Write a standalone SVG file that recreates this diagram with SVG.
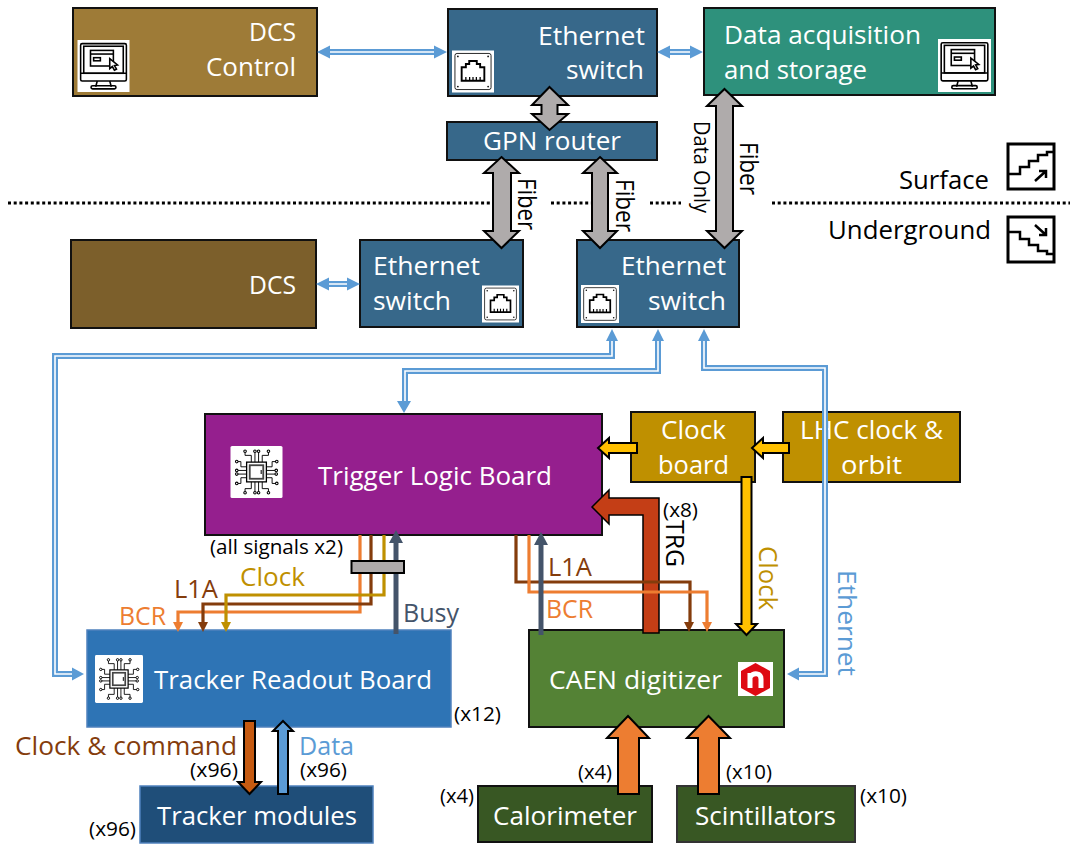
<svg xmlns="http://www.w3.org/2000/svg" width="1071" height="846" viewBox="0 0 1071 846">
<style>
text{font-family:"Open Sans","Noto Sans","Liberation Sans",sans-serif;font-size:26px;fill:#000}
.w{fill:#fff}.s{font-size:20px}
.box{stroke:#111;stroke-width:2}
.soft{stroke-width:1.5}
.eo{fill:none;stroke:#5B9BD5;stroke-width:6}
.ei{fill:none;stroke:#fff;stroke-width:1.6}
.eh{fill:#5B9BD5}
.blk{stroke:#000;stroke-width:2;stroke-linejoin:miter}
.g{fill:#AFABAB}.y{fill:#FFC000}.o{fill:#ED7D31}
.ln{fill:none;stroke-width:3.2}
.dot{stroke:#000;stroke-width:3;stroke-dasharray:3 2.7;fill:none}
.ic{fill:none;stroke:#000;stroke-width:3}
.icf{fill:#000}
</style>
<defs>
<symbol id="monitor" viewBox="0 0 100 100">
<rect width="100" height="100" fill="#fff"/>
<rect class="ic" x="6" y="7" width="88" height="72" rx="3"/>
<rect class="ic" x="12" y="12" width="76" height="52"/>
<path class="ic" d="M6 64H94M38 79L35 90M62 79L65 90"/>
<rect class="ic" x="26" y="88" width="48" height="6" rx="3"/>
<rect class="ic" x="25" y="20" width="44" height="30"/>
<path class="ic" d="M25 27H69"/>
<rect class="ic" x="31" y="34" width="13" height="6"/>
<path d="M62 36L77 48L71 49L75 56L71 58L67 51L62 55Z" fill="#fff" stroke="#000" stroke-width="3"/>
</symbol>
<symbol id="port" viewBox="0 0 100 100">
<rect width="100" height="100" fill="#fff"/>
<rect x="7" y="7" width="86" height="86" rx="5" fill="none" stroke="#000" stroke-width="2"/>
<circle class="icf" cx="14" cy="14" r="2"/><circle class="icf" cx="86" cy="14" r="2"/><circle class="icf" cx="14" cy="86" r="2"/><circle class="icf" cx="86" cy="86" r="2"/>
<path d="M23 72V40H33V32H41V25H59V32H67V40H77V72Z" fill="none" stroke="#000" stroke-width="4.5"/>
<path d="M33 72V63M42 72V63M50 72V63M58 72V63M67 72V63" stroke="#000" stroke-width="3"/>
</symbol>
<symbol id="chip" viewBox="0 0 100 100">
<rect width="100" height="100" rx="3" fill="#fff"/>
<rect x="31" y="31" width="38" height="38" fill="none" stroke="#000" stroke-width="2.500"/>
<rect x="37" y="37" width="26" height="26" fill="none" stroke="#444" stroke-width="3.500"/>
<path d="M59 46V54" stroke="#000" stroke-width="2"/>
<path d="M40 31V18H28V12M47 31V12M54 31V12M61 31V18H73V12M40 69V82H28V88M47 69V88M54 69V88M61 69V82H73V88M31 40H20V30H14M31 47H14M31 54H14M31 61H20V72H14M69 40H80V30H88M69 47H86M69 54H86M69 61H80V72H88" fill="none" stroke="#000" stroke-width="1.800"/>
<g fill="#fff" stroke="#000" stroke-width="2"><circle cx="28" cy="10" r="2.500"/><circle cx="47" cy="10" r="2.500"/><circle cx="54" cy="10" r="2.500"/><circle cx="73" cy="10" r="2.500"/><circle cx="28" cy="90" r="2.500"/><circle cx="47" cy="90" r="2.500"/><circle cx="54" cy="90" r="2.500"/><circle cx="73" cy="90" r="2.500"/><circle cx="12" cy="30" r="2.500"/><circle cx="12" cy="47" r="2.500"/><circle cx="12" cy="54" r="2.500"/><circle cx="12" cy="72" r="2.500"/><circle cx="89" cy="30" r="2.500"/><circle cx="88" cy="47" r="2.500"/><circle cx="88" cy="54" r="2.500"/><circle cx="89" cy="72" r="2.500"/></g>
</symbol>
</defs>

<g id="node-dcs-control"><rect class="box" x="73" y="8" width="244" height="88" fill="#9E7B37"/><use href="#monitor" x="77" y="40" width="53" height="52"/>
<text class="w" x="249" y="41" textLength="47" lengthAdjust="spacingAndGlyphs">DCS</text><text class="w" x="206" y="76" textLength="90" lengthAdjust="spacingAndGlyphs">Control</text></g>
<g id="node-eth-top"><rect class="box" x="448" y="9" width="209" height="87" fill="#37688A"/><use href="#port" x="452" y="50" width="42" height="43"/>
<text class="w" x="538" y="45" textLength="107" lengthAdjust="spacingAndGlyphs">Ethernet</text><text class="w" x="566" y="79" textLength="78" lengthAdjust="spacingAndGlyphs">switch</text></g>
<g id="node-daq"><rect class="box" x="704" y="8" width="291" height="87" fill="#2E917C"/><use href="#monitor" x="938" y="39" width="53" height="53"/>
<text class="w" x="724" y="44" textLength="197" lengthAdjust="spacingAndGlyphs">Data acquisition</text><text class="w" x="724" y="79" textLength="143" lengthAdjust="spacingAndGlyphs">and storage</text></g>
<g id="node-gpn"><rect class="box" x="447" y="122" width="210" height="38" fill="#37688A"/><text class="w" x="483" y="150" textLength="138" lengthAdjust="spacingAndGlyphs">GPN router</text></g>
<g id="node-dcs"><rect class="box" x="71" y="240" width="245" height="88" fill="#7C5F2B"/><text class="w" x="249" y="294" textLength="47" lengthAdjust="spacingAndGlyphs">DCS</text></g>
<g id="node-eth-left"><rect class="box" x="360" y="240" width="163" height="87" fill="#37688A"/><use href="#port" x="482" y="285" width="37" height="38"/>
<text class="w" x="373" y="275" textLength="107" lengthAdjust="spacingAndGlyphs">Ethernet</text><text class="w" x="373" y="310" textLength="78" lengthAdjust="spacingAndGlyphs">switch</text></g>
<g id="node-eth-right"><rect class="box" x="577" y="240" width="162" height="87" fill="#37688A"/><use href="#port" x="581" y="285" width="38" height="38"/>
<text class="w" x="621" y="275" textLength="105" lengthAdjust="spacingAndGlyphs">Ethernet</text><text class="w" x="648" y="310" textLength="78" lengthAdjust="spacingAndGlyphs">switch</text></g>
<g id="node-trigger"><rect class="box" x="205" y="414" width="397" height="121" fill="#951F8E"/><use href="#chip" x="230" y="446" width="53" height="52"/>
<text class="w" x="318" y="485" textLength="234" lengthAdjust="spacingAndGlyphs">Trigger Logic Board</text></g>
<g id="node-clock-board"><rect class="box" x="631" y="412" width="124" height="70" fill="#BF9000"/><text class="w" x="661" y="439" textLength="65" lengthAdjust="spacingAndGlyphs">Clock</text><text class="w" x="658" y="474" textLength="71" lengthAdjust="spacingAndGlyphs">board</text></g>
<g id="node-lhc"><rect class="box" x="783" y="412" width="177" height="70" fill="#BF9000"/><text class="w" x="800" y="439" textLength="143" lengthAdjust="spacingAndGlyphs">LHC clock &amp;</text><text class="w" x="841" y="474" textLength="61" lengthAdjust="spacingAndGlyphs">orbit</text></g>
<g id="node-trb"><rect class="box soft" x="87" y="630" width="364" height="97" fill="#2E74B5" style="stroke:#4F81BD"/><use href="#chip" x="95" y="655" width="48" height="48"/>
<text class="w" x="154" y="689" textLength="278" lengthAdjust="spacingAndGlyphs">Tracker Readout Board</text></g>
<g id="node-caen"><rect class="box" x="529" y="630" width="255" height="97" fill="#548235"/>
<rect x="738" y="662" width="35" height="34" fill="#fff"/><path d="M755.500 663L770 671V688L755.500 696L741 688V671Z" fill="#DE0A12"/>
<path d="M750 688V673M750 677C754 672 761 673 761 679V688" fill="none" stroke="#fff" stroke-width="5"/>
<text class="w" x="549" y="689" textLength="173" lengthAdjust="spacingAndGlyphs">CAEN digitizer</text></g>
<g id="node-tracker"><rect class="box soft" x="140" y="786" width="233" height="57" fill="#1F4E79" style="stroke:#4F81BD"/><text class="w" x="157" y="825" textLength="200" lengthAdjust="spacingAndGlyphs">Tracker modules</text></g>
<g id="node-calorimeter"><rect class="box" x="478" y="786" width="174" height="56" fill="#385723"/><text class="w" x="493" y="825" textLength="144" lengthAdjust="spacingAndGlyphs">Calorimeter</text></g>
<g id="node-scintillators"><rect class="box" x="677" y="786" width="178" height="56" fill="#385723" style="stroke:#333"/><text class="w" x="695" y="825" textLength="141" lengthAdjust="spacingAndGlyphs">Scintillators</text></g>

<g id="boundary">
<path class="dot" d="M8 203H492M551 203H592M650 203H681M772 203H1070"/>
<g id="surface-icon"><rect x="1008" y="144" width="46" height="45" fill="#fff" stroke="#000" stroke-width="3"/><path d="M1008 174H1020V167H1029V161H1038V155H1047V152H1054" fill="none" stroke="#000" stroke-width="2.500"/><path d="M1035 181L1046 171M1039 171H1046V178" fill="none" stroke="#000" stroke-width="2.500"/></g>
<g id="underground-icon"><rect x="1008" y="217" width="46" height="45" fill="#fff" stroke="#000" stroke-width="3"/><path d="M1008 232H1020V239H1029V245H1038V251H1047V254H1054" fill="none" stroke="#000" stroke-width="2.500"/><path d="M1035 225L1046 235M1039 235H1046V228" fill="none" stroke="#000" stroke-width="2.500"/></g>
<text x="899" y="189" textLength="90" lengthAdjust="spacingAndGlyphs">Surface</text>
<text x="828" y="239" textLength="163" lengthAdjust="spacingAndGlyphs">Underground</text>
</g>

<g id="connectors">
<path class="eo" d="M330 52H435M670 52H691M329 284H348"/><path class="ei" d="M328 52H436M668 52H692M327 284H349"/>
<path class="eh" d="M317 52L330 45.500V58.500ZM447 52L434 45.500V58.500ZM657 52L670 45.500V58.500ZM703 52L690 45.500V58.500ZM316 284L329 277.500V290.500ZM360 284L347 277.500V290.500Z"/>
<path class="eo" d="M612 340V356H55V674H72"/><path class="ei" d="M612 340V356H55V674H73"/>
<path class="eh" d="M612 329L606 341H618ZM84 674L72 667.500V680.500Z"/>
<path class="eo" d="M658 340V371H405V401"/><path class="ei" d="M658 340V371H405V402"/>
<path class="eh" d="M658 329L652 341H664ZM404 413L397 401H411Z"/>
<path class="eo" d="M704 340V368H825V674H798"/><path class="ei" d="M704 340V368H825V674H797"/>
<path class="eh" d="M704 329L698 341H710ZM787 674L799 667.500V680.500Z"/>
<path class="blk g" d="M549.500 87L568 105H557.500V114H568L549.500 130L532 114H541.500V105H532Z"/>
<path class="blk g" d="M501.500 157L519 173H511V231H519L501.500 248L484 231H493V173H484Z"/>
<path class="blk g" d="M600 157L617 173H608V231H617L600 248L583 231H592V173H583Z"/>
<path class="blk g" d="M724.500 89L742 106H733V231H742L724.500 248L707 231H716V106H707Z"/>
<path class="blk y" d="M598 448L609 438V443H637V453H609V458Z"/>
<path class="blk y" d="M752 448L763 438V443H789V453H763V458Z"/>
<path class="blk y" d="M741.500 477H751.500V624H757L746.500 635L736 624H741.500Z"/>
<path d="M643 633V515H609V524L592 507L609 490V498H659V633Z" fill="#C43E16" stroke="#000" stroke-width="1.500"/>
<path class="ln" stroke="#843C0C" d="M516 535V582H690V623"/><path fill="#843C0C" d="M689 632L684 622H694Z"/>
<path class="ln" stroke="#ED7D31" d="M529 535V592H707V623"/><path fill="#ED7D31" d="M707 632L702 622H712Z"/>
<path fill="none" stroke="#44546A" stroke-width="5" d="M541 635V544"/><path fill="#44546A" d="M541 532L548 545H534Z"/>
<path class="ln" stroke="#ED7D31" d="M360 535V612H178V623"/><path fill="#ED7D31" d="M178 632L173 622H183Z"/>
<path class="ln" stroke="#843C0C" d="M371 535V604H203V623"/><path fill="#843C0C" d="M203 632L198 622H208Z"/>
<path class="ln" stroke="#BF9000" d="M384 535V595H226V623"/><path fill="#BF9000" d="M226 632L221 622H231Z"/>
<path fill="none" stroke="#44546A" stroke-width="5" d="M396 634V541"/><path fill="#44546A" d="M396 530L403 543H389Z"/>
<rect x="351.500" y="561" width="52.500" height="12" fill="#AFABAB" stroke="#000" stroke-width="2"/>
<path class="blk" fill="#C55A11" d="M244 721H255V782H261L249.500 794L238 782H244Z"/>
<path class="blk" fill="#5B9BD5" d="M283 721L293 731H288V794H278V731H273Z"/>
<path class="blk o" d="M628 716L649 738H639V794H618V738H607Z"/>
<path class="blk o" d="M708.500 716L730 738H719V794H698V738H687Z"/>
</g>

<g id="labels">
<text transform="translate(518 178) rotate(90)" textLength="52" lengthAdjust="spacingAndGlyphs" style="font-size:25px">Fiber</text>
<text transform="translate(616 179) rotate(90)" textLength="53" lengthAdjust="spacingAndGlyphs" style="font-size:25px">Fiber</text>
<text transform="translate(694 121) rotate(90)" textLength="92" lengthAdjust="spacingAndGlyphs" style="font-size:22px">Data Only</text>
<text transform="translate(740 142) rotate(90)" textLength="53" lengthAdjust="spacingAndGlyphs" style="font-size:25px">Fiber</text>
<text transform="translate(666 520) rotate(90)" textLength="47" lengthAdjust="spacingAndGlyphs">TRG</text>
<text transform="translate(759 546) rotate(90)" textLength="64" lengthAdjust="spacingAndGlyphs" style="fill:#BF9000">Clock</text>
<text transform="translate(838 570) rotate(90)" textLength="106" lengthAdjust="spacingAndGlyphs" style="fill:#5B9BD5">Ethernet</text>
<text class="s" x="210" y="554" textLength="133" lengthAdjust="spacingAndGlyphs">(all signals x2)</text>
<text x="240" y="586" textLength="65" lengthAdjust="spacingAndGlyphs" style="fill:#BF9000">Clock</text>
<text x="174" y="598" textLength="44" lengthAdjust="spacingAndGlyphs" style="fill:#843C0C">L1A</text>
<text x="119" y="625" textLength="47" lengthAdjust="spacingAndGlyphs" style="fill:#ED7D31">BCR</text>
<text x="403" y="622" textLength="56" lengthAdjust="spacingAndGlyphs" style="fill:#44546A">Busy</text>
<text x="548" y="576" textLength="44" lengthAdjust="spacingAndGlyphs" style="fill:#843C0C">L1A</text>
<text x="546" y="618" textLength="47" lengthAdjust="spacingAndGlyphs" style="fill:#ED7D31">BCR</text>
<text x="15" y="755" textLength="222" lengthAdjust="spacingAndGlyphs" style="fill:#843C0C">Clock &amp; command</text>
<text x="299" y="755" textLength="55" lengthAdjust="spacingAndGlyphs" style="fill:#5B9BD5">Data</text>
<text class="s" x="663" y="517" textLength="35" lengthAdjust="spacingAndGlyphs">(x8)</text>
<text class="s" x="454" y="721" textLength="47" lengthAdjust="spacingAndGlyphs">(x12)</text>
<text class="s" x="190" y="777" textLength="48" lengthAdjust="spacingAndGlyphs">(x96)</text>
<text class="s" x="300" y="777" textLength="47" lengthAdjust="spacingAndGlyphs">(x96)</text>
<text class="s" x="89" y="836" textLength="47" lengthAdjust="spacingAndGlyphs">(x96)</text>
<text class="s" x="440" y="803" textLength="34" lengthAdjust="spacingAndGlyphs">(x4)</text>
<text class="s" x="578" y="779" textLength="34" lengthAdjust="spacingAndGlyphs">(x4)</text>
<text class="s" x="726" y="779" textLength="46" lengthAdjust="spacingAndGlyphs">(x10)</text>
<text class="s" x="860" y="803" textLength="47" lengthAdjust="spacingAndGlyphs">(x10)</text>
</g>
</svg>
